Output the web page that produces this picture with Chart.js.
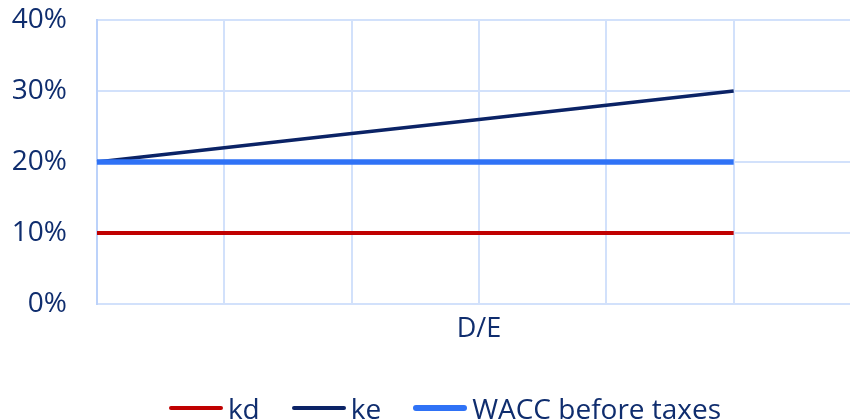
<!DOCTYPE html>
<html>
<head>
<meta charset="utf-8">
<script src="https://cdn.jsdelivr.net/npm/chart.js@4/dist/chart.umd.min.js"></script>
<style>
  html, body { margin: 0; padding: 0; background: #ffffff; overflow: hidden; }
  #wrap { position: relative; width: 890px; height: 420px; }
  #legend {
    position: absolute; left: 0; width: 890px; top: 389px; height: 38px;
    display: flex; justify-content: center; align-items: center;
    font-family: "Open Sans", sans-serif; font-size: 28px; color: #0f2d6e;
  }
  .item { display: flex; align-items: center; margin: 0 16px; }
  .swatch { width: 54px; border-radius: 3px; margin-right: 5px; }
</style>
</head>
<body>
<div id="wrap">
  <canvas id="chart" width="890" height="420"></canvas>
  <div id="legend"></div>
</div>
<script>
// Debt-to-equity steps along the horizontal axis (labels are not shown)
const deRatios = [0, 0.2, 0.4, 0.6, 0.8, 1.0, 1.2];

// Cost of debt, cost of equity and WACC, in percent
const kd = [10, 10, 10, 10, 10, 10];
const ke = [20, 22, 24, 26, 28, 30];
const wacc = [20, 20, 20, 20, 20, 20];

const seriesNames = ['kd', 'ke', 'WACC before taxes'];
const yTicks = [0, 10, 20, 30, 40];

const textColor = '#0f2d6e';
const gridColor = '#d2e1fb';
const fontFamily = '"Open Sans", sans-serif';

const datasets = [
  { label: seriesNames[0], data: kd, borderColor: '#c00000', borderWidth: 4, order: 1 },
  { label: seriesNames[1], data: ke, borderColor: '#0b2366', borderWidth: 3.5, order: 1 },
  { label: seriesNames[2], data: wacc, borderColor: '#2f72f6', borderWidth: 5.5, order: 0 }
].map(d => Object.assign(d, {
  pointRadius: 0, pointHoverRadius: 0, tension: 0, fill: false,
  borderCapStyle: 'butt', backgroundColor: d.borderColor
}));

const chart = new Chart(document.getElementById('chart'), {
  type: 'line',
  data: { labels: deRatios, datasets },
  options: {
    responsive: false,
    animation: false,
    events: [],
    layout: { padding: { left: 0, right: 29, top: 20, bottom: 0 } },
    plugins: { legend: { display: false }, tooltip: { enabled: false } },
    scales: {
      x: {
        type: 'category',
        offset: false,
        grid: { color: gridColor, lineWidth: 2, drawTicks: false },
        border: { color: gridColor, width: 2 },
        ticks: { display: false },
        title: {
          display: true, text: 'D/E', color: textColor,
          font: { family: fontFamily, size: 27 },
          padding: { top: 0, bottom: 74 }
        },
        afterFit: s => { s.height = 116; }
      },
      y: {
        min: 0, max: 40,
        afterBuildTicks: s => { s.ticks = yTicks.map(v => ({ value: v })); },
        // invisible tick marks leave a 30px gap between labels and the axis
        grid: { color: gridColor, lineWidth: 2, drawTicks: true, tickLength: 30, tickColor: 'rgba(0,0,0,0)' },
        border: { color: '#bcd2fa', width: 2 },
        ticks: {
          color: textColor, padding: 0,
          font: { family: fontFamily, size: 28 },
          callback: v => v + '%'
        },
        afterFit: s => { s.width = 97; }
      }
    }
  }
});

// Legend built from the chart's datasets
const legend = document.getElementById('legend');
chart.data.datasets.forEach(ds => {
  const item = document.createElement('div');
  item.className = 'item';
  const sw = document.createElement('div');
  sw.className = 'swatch';
  sw.style.height = Math.round(ds.borderWidth) + 'px';
  sw.style.background = ds.borderColor;
  const tx = document.createElement('span');
  tx.textContent = ds.label;
  item.appendChild(sw);
  item.appendChild(tx);
  legend.appendChild(item);
});
</script>
</body>
</html>
